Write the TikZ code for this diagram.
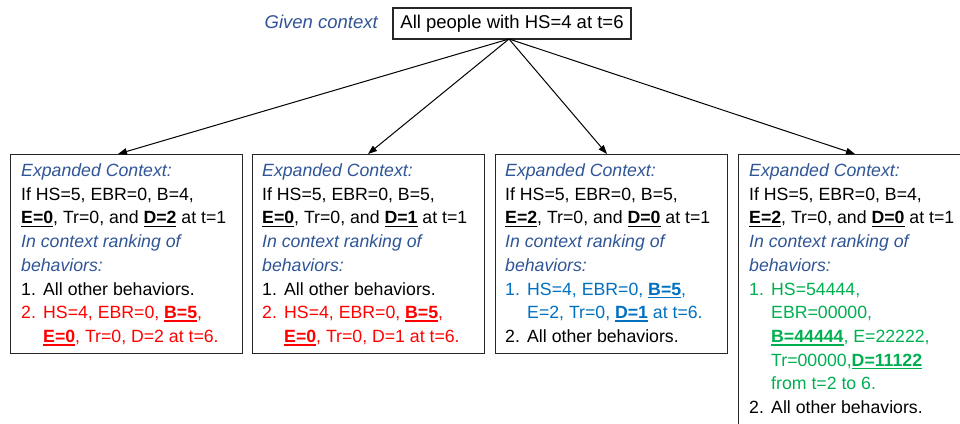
\documentclass[tikz,border=0pt]{standalone}
\usepackage{fontspec}
\setmainfont{Liberation Sans}
\usetikzlibrary{arrows.meta}
\definecolor{hdrblue}{RGB}{47,85,151}
\definecolor{itemred}{RGB}{255,0,0}
\definecolor{itemblue}{RGB}{0,112,192}
\definecolor{itemgreen}{RGB}{0,176,80}
\newcommand{\ub}[1]{\setbox0\hbox{\bfseries #1}\rlap{\rule[-3.2pt]{\wd0}{1.5pt}}\box0\relax}
\newcommand{\hdr}[1]{{\itshape\color{hdrblue}#1}}
\newcommand{\lnum}[1]{\makebox[22pt][l]{#1}}
\newcommand{\cont}{\hspace*{22pt}}
\newcommand{\boxtext}[1]{\parbox[t]{240pt}{\fontsize{17.7}{23.7}\selectfont\leavevmode #1}}
\tikzset{
  frame/.style={draw=black!85, line width=1.1pt, anchor=north west, inner sep=0pt},
  btext/.style={anchor=base west, inner sep=0pt},
  arr/.style={draw=black, line width=1pt, -{Triangle[length=9pt,width=6.5pt]}},
}
\begin{document}
\begin{tikzpicture}[x=1pt,y=-1pt]
\clip (0,0) rectangle (960,423);
% top
\node[draw=black!85, line width=1.1pt, minimum width=238pt, minimum height=31pt, inner sep=0pt,
      font=\fontsize{18.5}{22}\selectfont] (top) at (512,23.5) {All people with HS=4 at t=6};
\node[anchor=base east, inner sep=0pt, font=\fontsize{18.5}{22}\selectfont\itshape, text=hdrblue]
      (gc) at (378,28.5) {Given context};
\coordinate (src) at (509,39);
% frames
\node[frame, minimum width=232pt, minimum height=199pt] (b1) at (10,154) {};
\node[frame, minimum width=232pt, minimum height=199pt] (b2) at (252,154) {};
\node[frame, minimum width=232pt, minimum height=199pt] (b3) at (495,154) {};
\node[frame, minimum width=260pt, minimum height=300pt] (b4) at (738,154) {};
% arrow targets on the frame tops
\coordinate (t1) at (118,154);
\coordinate (t2) at (368,154);
\coordinate (t3) at (607,154);
\coordinate (t4) at (855,154);
\draw[arr] (src) -- (t1);
\draw[arr] (src) -- (t2);
\draw[arr] (src) -- (t3);
\draw[arr] (src) -- (t4);
% texts
\node[btext] (b1t) at (21,176.5) {\boxtext{%
\hdr{Expanded Context:}\\
If HS=5, EBR=0, B=4,\\
\ub{E=0}, Tr=0, and \ub{D=2} at t=1\\
\hdr{In context ranking of}\\
\hdr{behaviors:}\\
\lnum{1.}All other behaviors.\\
{\color{itemred}\lnum{2.}HS=4, EBR=0, \ub{B=5},}\\
{\color{itemred}\cont\ub{E=0}, Tr=0, D=2 at t=6.}}};
\node[btext] (b2t) at (262,176.5) {\boxtext{%
\hdr{Expanded Context:}\\
If HS=5, EBR=0, B=5,\\
\ub{E=0}, Tr=0, and \ub{D=1} at t=1\\
\hdr{In context ranking of}\\
\hdr{behaviors:}\\
\lnum{1.}All other behaviors.\\
{\color{itemred}\lnum{2.}HS=4, EBR=0, \ub{B=5},}\\
{\color{itemred}\cont\ub{E=0}, Tr=0, D=1 at t=6.}}};
\node[btext] (b3t) at (505,176.5) {\boxtext{%
\hdr{Expanded Context:}\\
If HS=5, EBR=0, B=5,\\
\ub{E=2}, Tr=0, and \ub{D=0} at t=1\\
\hdr{In context ranking of}\\
\hdr{behaviors:}\\
{\color{itemblue}\lnum{1.}HS=4, EBR=0, \ub{B=5},}\\
{\color{itemblue}\cont E=2, Tr=0, \ub{D=1} at t=6.}\\
\lnum{2.}All other behaviors.}};
\node[btext] (b4t) at (749,176.5) {\boxtext{%
\hdr{Expanded Context:}\\
If HS=5, EBR=0, B=4,\\
\ub{E=2}, Tr=0, and \ub{D=0} at t=1\\
\hdr{In context ranking of}\\
\hdr{behaviors:}\\
{\color{itemgreen}\lnum{1.}HS=54444,}\\
{\color{itemgreen}\cont EBR=00000,}\\
{\color{itemgreen}\cont\ub{B=44444}, E=22222,}\\
{\color{itemgreen}\cont Tr=00000,\ub{D=11122}}\\
{\color{itemgreen}\cont from t=2 to 6.}\\
\lnum{2.}All other behaviors.}};
\end{tikzpicture}
\end{document}
